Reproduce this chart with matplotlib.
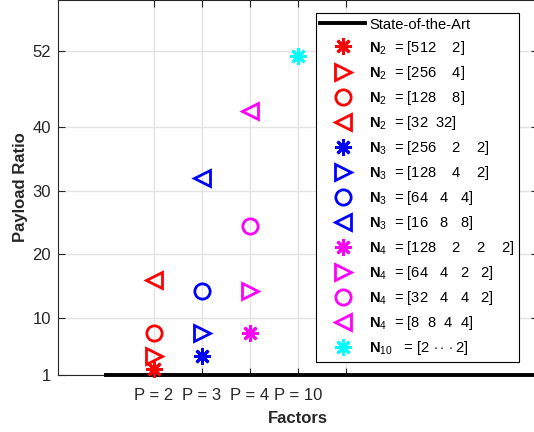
import matplotlib
matplotlib.use("Agg")
import matplotlib.pyplot as plt

plt.rcParams['font.family'] = ['Liberation Sans', 'DejaVu Sans']
plt.rcParams['mathtext.fontset'] = 'custom'
plt.rcParams['mathtext.rm'] = 'Liberation Sans'
plt.rcParams['mathtext.it'] = 'Liberation Sans'
plt.rcParams['mathtext.bf'] = 'Liberation Sans:bold'

# ---- data ----
x_tick_positions = [2, 3, 4, 5, 6]
x_tick_labels = ['P = 2', 'P = 3', 'P = 4', 'P = 10', '']
y_ticks = [1, 10, 20, 30, 40, 52]

sota_x = [1, 10]
sota_y = [1, 1]

series_x = [2, 2, 2, 2, 3, 3, 3, 3, 4, 4, 4, 4, 5]
series_y = [2.0, 4.0, 7.6, 16.0, 4.0, 7.6, 14.2, 32.0, 7.6, 14.2, 24.4, 42.6, 51.2]
series_colors = ['red'] * 4 + ['blue'] * 4 + ['magenta'] * 4 + ['cyan']
series_markers = ['*', '>', 'o', '<'] * 3 + ['*']
series_labels = [
    r'$\mathbf{N}_{2}$  = [512    2]',
    r'$\mathbf{N}_{2}$  = [256    4]',
    r'$\mathbf{N}_{2}$  = [128    8]',
    r'$\mathbf{N}_{2}$  = [32  32]',
    r'$\mathbf{N}_{3}$  = [256    2    2]',
    r'$\mathbf{N}_{3}$  = [128    4    2]',
    r'$\mathbf{N}_{3}$  = [64   4   4]',
    r'$\mathbf{N}_{3}$  = [16   8   8]',
    r'$\mathbf{N}_{4}$  = [128    2    2    2]',
    r'$\mathbf{N}_{4}$  = [64   4   2   2]',
    r'$\mathbf{N}_{4}$  = [32   4   4   2]',
    r'$\mathbf{N}_{4}$  = [8  8  4  4]',
    r'$\mathbf{N}_{10}$   = [2 $\cdot\cdot\cdot$2]',
]

fig = plt.figure(figsize=(5.34, 4.32), dpi=100)
ax = fig.add_axes([58 / 534, 57 / 432, 480 / 534, 375 / 432])

ax.plot(sota_x, sota_y, color='black', lw=2.8, label='State-of-the-Art', zorder=3, clip_on=False)

ast = (8, 2, 0)
for xv, yv, c, m, lab in zip(series_x, series_y, series_colors, series_markers, series_labels):
    mk = ast if m == '*' else m
    ms = 12 if m == '*' else 11
    ax.plot([xv], [yv], linestyle='none', marker=mk, markersize=ms,
            markerfacecolor='none', markeredgecolor=c, markeredgewidth=2.0,
            color=c, label=lab, zorder=4, clip_on=False)

ax.set_xlim(0, 10)
ax.set_ylim(1, 60)
ax.set_xticks(x_tick_positions)
ax.set_xticklabels(x_tick_labels)
ax.set_yticks(y_ticks)
ax.grid(True, color='#e3e3e3', linewidth=1.0)
ax.set_axisbelow(True)
ax.tick_params(direction='in', length=5, width=0.8, colors='#262626',
               labelsize=12, top=True, right=True)
ax.tick_params(axis='x', pad=9)
ax.tick_params(axis='y', pad=5)
for s in ax.spines.values():
    s.set_color('#262626')
    s.set_linewidth(0.8)

ax.set_xlabel('Factors', fontsize=12, fontweight='bold', color='#262626', labelpad=6)
ax.set_ylabel('Payload Ratio', fontsize=12, fontweight='bold', color='#262626', labelpad=3)

leg = ax.legend(loc='upper left', bbox_to_anchor=(0.5375, 0.965), borderaxespad=0,
                fontsize=10.6, frameon=True, fancybox=False, edgecolor='black',
                framealpha=1, handlelength=3.0, handletextpad=0.3,
                labelspacing=0.48, borderpad=0.3)
leg.get_frame().set_linewidth(0.8)

fig.savefig('out.png', dpi=100)
